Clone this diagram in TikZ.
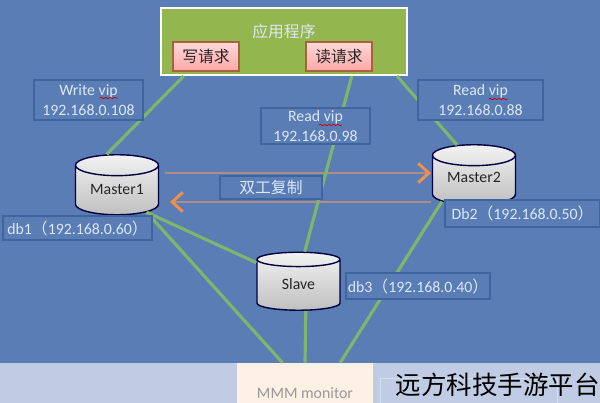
\documentclass[tikz,border=0pt]{standalone}
\usepackage{fontspec}
\setmainfont{Carlito}
\newfontfamily\cjk{Noto Sans CJK SC}
\usetikzlibrary{shapes.geometric,decorations.pathmorphing,arrows.meta}
\definecolor{bgblue}{HTML}{5A7DB5}
\definecolor{boxedge}{HTML}{3F659F}
\definecolor{bandblue}{HTML}{BFCCE3}
\definecolor{appgreen}{HTML}{93B64F}
\definecolor{linkgreen}{HTML}{7FB56C}
\definecolor{reqedge}{HTML}{A5633F}
\definecolor{labeltext}{HTML}{DCE8F8}
\definecolor{replgray}{HTML}{AC8E84}
\definecolor{replorange}{HTML}{EE8F4E}
\definecolor{monitorfill}{HTML}{FDF0E4}
\newcommand{\lparen}{{\cjk （}}
\newcommand{\rparen}{{\cjk ）}}
\tikzset{
    link/.style={draw=linkgreen, line width=1.8pt},
    repl/.style={draw=replgray, line width=1.7pt, -{Straight Barb[length=6pt,width=11pt,color=replorange]}},
    dbnode/.style={shape=cylinder, shape border rotate=90, aspect=.32, draw=black!75!blue, line width=.8pt,
        top color=white!90!gray, bottom color=black!25, minimum width=1.66cm, font=\small},
    dbtext/.style={font=\small, text=black!85},
    vipbox/.style={draw=boxedge, line width=.8pt, fill=bgblue, text=labeltext, align=center, font=\small,
        inner sep=0pt},
    reqbox/.style={draw=reqedge, line width=1pt, top color=red!15, bottom color=red!35!white, text=black!85,
        minimum width=1.32cm, minimum height=.58cm, inner sep=0pt, font=\cjk\small},
    squiggle/.style={draw=red!80!black, line width=.4pt, decorate, decoration={snake, amplitude=.4pt, segment length=2.5pt}},
}
\begin{document}
\begin{tikzpicture}[x=.02cm, y=-.02cm]
    \useasboundingbox (0, 0) rectangle (600, 403);
    \fill[bgblue] (0, 0) rectangle (600, 403);
    \fill[bandblue] (0, 363) rectangle (600, 403);

    \node[draw=white, line width=1.2pt, fill=appgreen, minimum width=4.92cm, minimum height=1.34cm] (app) at(284, 41.5){};
    \node[text=labeltext, font=\cjk\small] (apptext) at(284, 31){应用程序};
    \node[reqbox] (writereq) at(206, 56.5){写请求};
    \node[reqbox] (readreq) at(339, 56.5){读请求};

    \node[dbnode, minimum height=1.2cm] (master1) at(117, 193){\phantom{Master1}};
    \node[dbnode, minimum height=1.2cm] (master2) at(474, 183){\phantom{Master2}};
    \node[dbnode, minimum height=1.16cm] (slave) at(298.5, 287){\phantom{Slave}};
    \node[dbtext] (master1text) at(117, 189){Master1};
    \node[dbtext] (master2text) at(474, 177){Master2};
    \node[dbtext] (slavetext) at(298.5, 284){Slave};

    \node[fill=monitorfill, minimum width=2.72cm, minimum height=.8cm, inner sep=0pt] (monitor) at(305, 383){};
    \node[text=gray!80, font=\small] (monitortext) at(305, 393){MMM monitor};
    \node[draw=white!35!bandblue, minimum width=3.54cm, minimum height=.5cm, inner sep=0pt] (faintbox) at(468.5, 390.5){};

    \coordinate (replstart) at(165, 173);
    \coordinate (replend) at(431, 173);
    \coordinate (backstart) at(431, 202);
    \coordinate (backend) at(170, 202);
    \draw[repl] (replstart) -- (replend);
    \draw[repl] (backstart) -- (backend);

    \draw[link] (app.199.6) -- (master1.105);
    \draw[link] (app.333) -- (slave.80);
    \draw[link] (app.343) -- (master2.114);
    \draw[link] (master1.327) -- (slave.150);
    \draw[link] (master1.327) -- (monitor.138);
    \draw[link] (slave.287) -- (monitor.north);
    \draw[link] (master2.210) -- (monitor.30);

    \node[vipbox, minimum width=2.18cm, minimum height=.8cm] (writevip) at(88.5, 100){Write vip\\192.168.0.108};
    \node[vipbox, minimum width=2.18cm, minimum height=.72cm] (midvip) at(315.5, 126){Read vip\\192.168.0.98};
    \node[vipbox, minimum width=2.5cm, minimum height=.8cm] (rightvip) at(480.5, 100){Read vip\\192.168.0.88};
    \node[vipbox, minimum width=2.98cm, minimum height=.48cm] (db1) at(77.5, 228){db1\lparen 192.168.0.60\rparen};
    \node[vipbox, minimum width=3.1cm, minimum height=.54cm] (db2) at(522.5, 213.5){Db2\lparen 192.168.0.50\rparen};
    \node[vipbox, minimum width=2.88cm, minimum height=.52cm] (db3) at(418, 286){db3\lparen 192.168.0.40\rparen};
    \node[vipbox, font=\cjk\small, minimum width=2.04cm, minimum height=.46cm] (duplex) at(271, 187.5){双工复制};

    \draw[squiggle] (100, 98) -- (118, 98);
    \draw[squiggle] (319, 125) -- (342, 125);
    \draw[squiggle] (489, 99) -- (508, 99);

    \node[text=black, font=\cjk\fontsize{14.5}{15}\selectfont, anchor=east, inner sep=0pt] (watermark) at(600, 385){远方科技手游平台};
\end{tikzpicture}
\end{document}
